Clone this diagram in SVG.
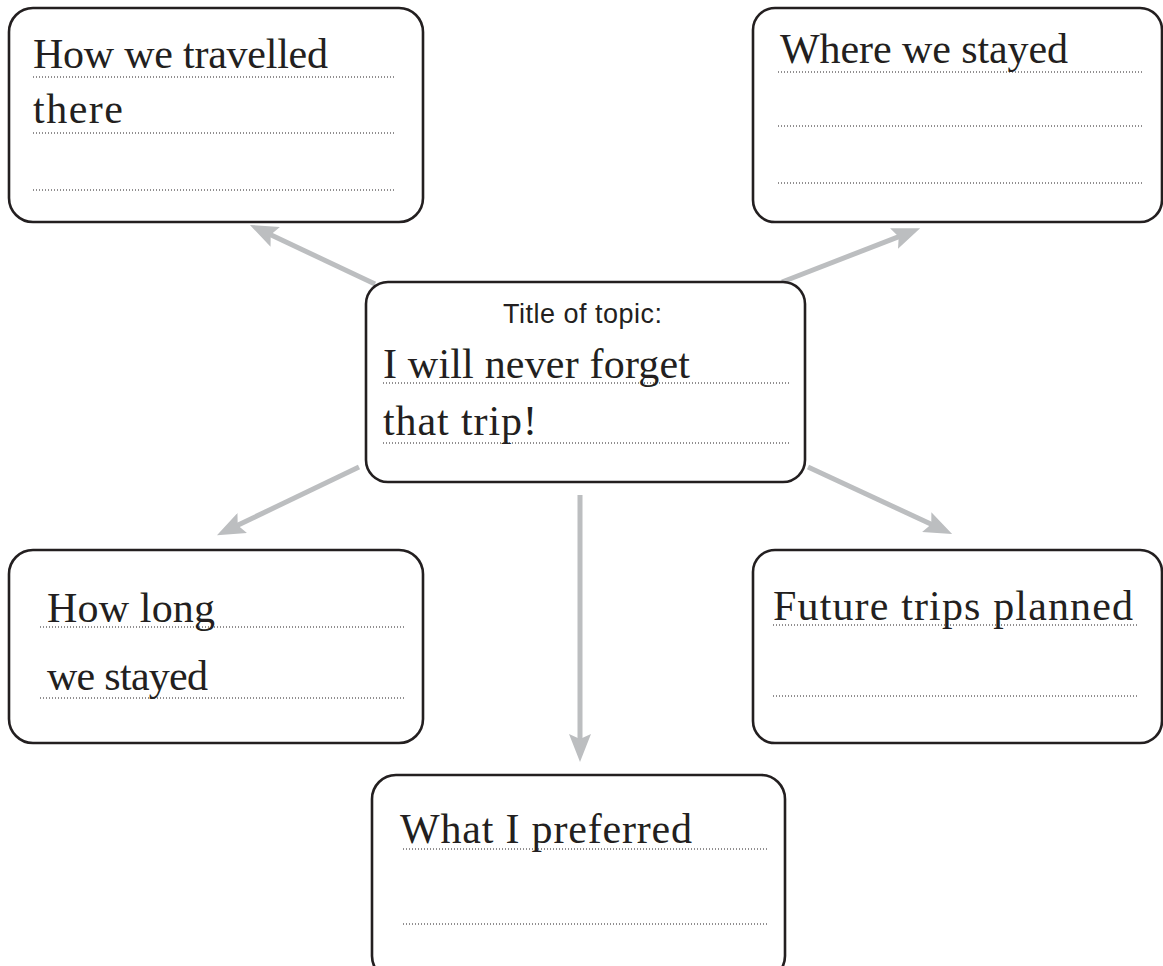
<svg xmlns="http://www.w3.org/2000/svg" width="1163" height="966" viewBox="0 0 1163 966">
<style>
.box{fill:#fff;stroke:#231f20;stroke-width:2.6}
.t{font-family:"Liberation Serif","Times New Roman",serif;font-size:42px;fill:#231f20}
.s{font-family:"Liberation Sans",Arial,sans-serif;font-size:27px;fill:#231f20}
.dot{stroke:#231f20;stroke-width:1;stroke-dasharray:1 2;fill:none}
.arr{stroke:#bcbec0;stroke-width:5;fill:none;marker-end:url(#ah)}
</style>
<defs>
<marker id="ah" markerUnits="userSpaceOnUse" markerWidth="28" markerHeight="22" viewBox="0 0 28 22" refX="8" refY="11" orient="auto">
<path d="M0,0 L28,11 L0,22 L5,11 Z" fill="#bcbec0"/>
</marker>
</defs>
<rect width="1163" height="966" fill="#fff"/>
<g id="connectors">
<line class="arr" x1="375" y1="284" x2="268" y2="233.5"/>
<line class="arr" x1="782" y1="282" x2="901.5" y2="235.6"/>
<line class="arr" x1="359" y1="467" x2="235" y2="526.5"/>
<line class="arr" x1="808" y1="467" x2="934" y2="525.5"/>
<line class="arr" x1="580" y1="495" x2="580" y2="742"/>
</g>
<g id="node-travelled">
<rect class="box" x="9" y="8" width="414" height="214" rx="24"/>
<text class="t" x="33" y="68" textLength="295">How we travelled</text>
<line class="dot" x1="33" y1="77" x2="395" y2="77"/>
<text class="t" x="33" y="123" textLength="90">there</text>
<line class="dot" x1="33" y1="133" x2="395" y2="133"/>
<line class="dot" x1="33" y1="190" x2="395" y2="190"/>
</g>
<g id="node-stayed">
<rect class="box" x="753" y="8" width="409" height="214" rx="22"/>
<text class="t" x="780" y="63" textLength="288">Where we stayed</text>
<line class="dot" x1="778" y1="72" x2="1142" y2="72"/>
<line class="dot" x1="778" y1="126" x2="1142" y2="126"/>
<line class="dot" x1="778" y1="183" x2="1142" y2="183"/>
</g>
<g id="node-title">
<rect class="box" x="366" y="282" width="439" height="200" rx="22"/>
<text class="s" x="582.5" y="323" text-anchor="middle" textLength="159">Title of topic:</text>
<text class="t" x="383" y="378" textLength="307">I will never forget</text>
<line class="dot" x1="383" y1="383" x2="790" y2="383"/>
<text class="t" x="383" y="435" textLength="154">that trip!</text>
<line class="dot" x1="383" y1="443" x2="790" y2="443"/>
</g>
<g id="node-howlong">
<rect class="box" x="9" y="550" width="414" height="193" rx="24"/>
<text class="t" x="47" y="622" textLength="168">How long</text>
<line class="dot" x1="40" y1="627" x2="405" y2="627"/>
<text class="t" x="47" y="690" textLength="161">we stayed</text>
<line class="dot" x1="40" y1="698" x2="405" y2="698"/>
</g>
<g id="node-future">
<rect class="box" x="753" y="550" width="409" height="193" rx="22"/>
<text class="t" x="773" y="620" textLength="360">Future trips planned</text>
<line class="dot" x1="773" y1="625" x2="1137" y2="625"/>
<line class="dot" x1="773" y1="696" x2="1137" y2="696"/>
</g>
<g id="node-preferred">
<rect class="box" x="372" y="775" width="413" height="205" rx="24"/>
<text class="t" x="400" y="843" textLength="292">What I preferred</text>
<line class="dot" x1="403" y1="849" x2="768" y2="849"/>
<line class="dot" x1="403" y1="924" x2="768" y2="924"/>
</g>
</svg>
